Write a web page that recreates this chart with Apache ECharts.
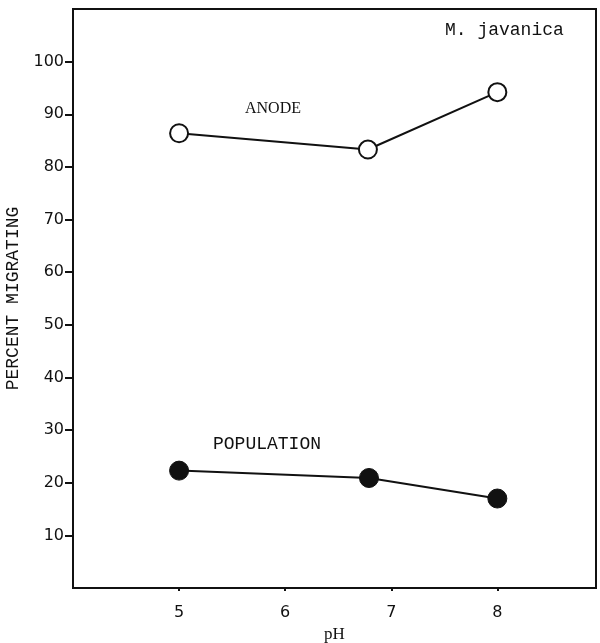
<!DOCTYPE html>
<html>
<head>
<meta charset="utf-8">
<script src="https://cdn.jsdelivr.net/npm/echarts@6/dist/echarts.min.js"></script>
<style>
  html, body { margin: 0; padding: 0; background: #fff; }
  #chart { width: 600px; height: 643px; }
</style>
</head>
<body>
<div id="chart"></div>
<script>
// pH values at which migration was measured
const anodePH = [5, 6.78, 8];
const anodePercent = [86.4, 83.3, 94.2];
const populationPH = [5, 6.79, 8];
const populationPercent = [22.3, 20.9, 17.0];

// axis ticks
const xTicks = [5, 6, 7, 8];
const yTicks = [10, 20, 30, 40, 50, 60, 70, 80, 90, 100];

const ink = '#111';
const mono = '"Liberation Mono", "DejaVu Sans Mono", monospace';
const serif = '"Liberation Serif", "DejaVu Serif", serif';
const sans = '"DejaVu Sans", "Liberation Sans", sans-serif';

const pairs = (xs, ys) => xs.map((x, i) => [x, ys[i]]);

const chart = echarts.init(document.getElementById('chart'), null, { renderer: 'canvas' });

chart.setOption({
  animation: false,
  backgroundColor: '#fff',
  grid: {
    left: 73, top: 9, right: 4, bottom: 55,
    outerBoundsMode: 'none', containLabel: false,
    show: true, borderColor: ink, borderWidth: 2, backgroundColor: 'transparent'
  },
  title: [
    { text: 'M. javanica', left: 440, top: 16,
      textStyle: { fontFamily: mono, fontSize: 18, fontWeight: 'normal', color: ink } },
    { text: 'ANODE', left: 240, top: 96,
      textStyle: { fontFamily: serif, fontSize: 16, fontWeight: 'normal', color: ink } },
    { text: 'POPULATION', left: 208, top: 430,
      textStyle: { fontFamily: mono, fontSize: 18, fontWeight: 'normal', color: ink } }
  ],
  xAxis: {
    type: 'value', min: 4, max: 8.93,
    splitLine: { show: false },
    axisLine: { show: true, onZero: false, lineStyle: { color: ink, width: 2 } },
    axisTick: { show: true, customValues: xTicks, length: 3, inside: false, lineStyle: { color: ink, width: 2 } },
    axisLabel: { customValues: xTicks, margin: 17, color: ink, fontFamily: sans, fontSize: 16 },
    name: 'pH', nameLocation: 'middle', nameGap: 38,
    nameTextStyle: { fontFamily: serif, fontSize: 17, color: ink }
  },
  yAxis: {
    type: 'value', min: 0, max: 110,
    splitLine: { show: false },
    axisLine: { show: true, onZero: false, lineStyle: { color: ink, width: 2 } },
    axisTick: { show: true, customValues: yTicks, length: 8, lineStyle: { color: ink, width: 2 } },
    axisLabel: { customValues: yTicks, margin: 9, color: ink, fontFamily: sans, fontSize: 16 },
    name: 'PERCENT MIGRATING', nameLocation: 'middle', nameGap: 38, nameRotate: 90,
    nameTextStyle: { fontFamily: mono, fontSize: 18, color: ink }
  },
  series: [
    {
      name: 'ANODE', type: 'line',
      data: pairs(anodePH, anodePercent),
      symbol: 'circle', symbolSize: 18,
      lineStyle: { color: ink, width: 2 },
      itemStyle: { color: '#fff', borderColor: ink, borderWidth: 2 },
      z: 3
    },
    {
      name: 'POPULATION', type: 'line',
      data: pairs(populationPH, populationPercent),
      symbol: 'circle', symbolSize: 19,
      lineStyle: { color: ink, width: 2 },
      itemStyle: { color: ink, borderColor: ink, borderWidth: 1 },
      z: 3
    }
  ]
});
</script>
</body>
</html>
